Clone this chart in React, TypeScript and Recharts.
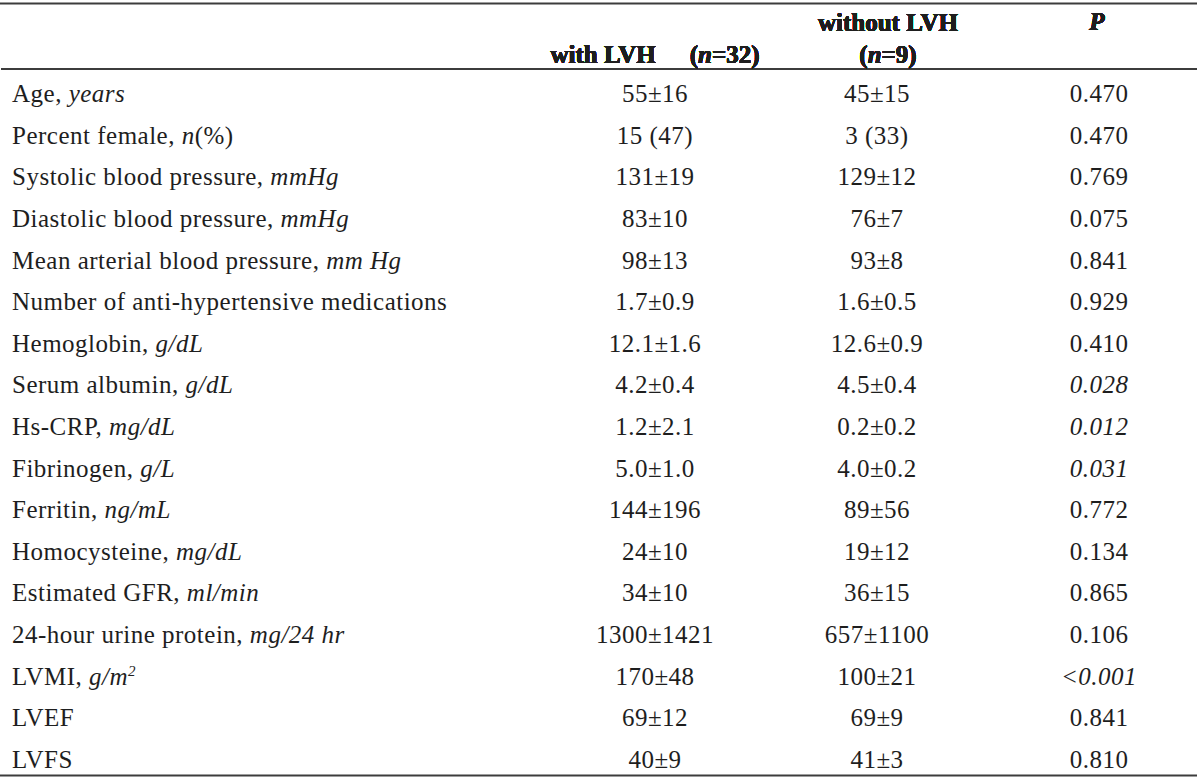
import React from "react";
import { ScatterChart, Scatter, XAxis, YAxis } from "recharts";

const rowNames = [
  "Age",
  "Percent female",
  "Systolic blood pressure",
  "Diastolic blood pressure",
  "Mean arterial blood pressure",
  "Number of anti-hypertensive medications",
  "Hemoglobin",
  "Serum albumin",
  "Hs-CRP",
  "Fibrinogen",
  "Ferritin",
  "Homocysteine",
  "Estimated GFR",
  "24-hour urine protein",
  "LVMI",
  "LVEF",
  "LVFS",
];

// "^" marks a superscript, "(" starts a roman tail
const rowUnits = [
  "years", "n(%)", "mmHg", "mmHg", "mm Hg", "", "g/dL", "g/dL", "mg/dL",
  "g/L", "ng/mL", "mg/dL", "ml/min", "mg/24 hr", "g/m^2", "", "",
];

const withLVH = [
  "55±16", "15 (47)", "131±19", "83±10", "98±13", "1.7±0.9", "12.1±1.6",
  "4.2±0.4", "1.2±2.1", "5.0±1.0", "144±196", "24±10", "34±10",
  "1300±1421", "170±48", "69±12", "40±9",
];

const withoutLVH = [
  "45±15", "3 (33)", "129±12", "76±7", "93±8", "1.6±0.5", "12.6±0.9",
  "4.5±0.4", "0.2±0.2", "4.0±0.2", "89±56", "19±12", "36±15",
  "657±1100", "100±21", "69±9", "41±3",
];

const pValues = [
  "0.470", "0.470", "0.769", "0.075", "0.841", "0.929", "0.410", "0.028",
  "0.012", "0.031", "0.772", "0.134", "0.865", "0.106", "<0.001", "0.841",
  "0.810",
];

const FONT = "'Liberation Serif', 'Times New Roman', serif";
const INK = "#1e1e1e";
const RULE = "#3c3c3c";
const SIZE = 25;
const SPACING = 0.5;

const toPoints = (col: string, values: string[]) =>
  rowNames.map((row, i) => ({ row, col, text: values[i] }));

const isSignificant = (p: string) => p.startsWith("<") || parseFloat(p) < 0.05;

const CellText = (props: any) => {
  const { cx, cy, payload } = props;
  const italic = payload.col === "p" && isSignificant(payload.text);
  return (
    <text
      x={cx}
      y={cy}
      dy="0.33em"
      textAnchor="middle"
      fontFamily={FONT}
      fontSize={SIZE}
      letterSpacing={SPACING}
      fontStyle={italic ? "italic" : "normal"}
      fill={INK}
    >
      {payload.text}
    </text>
  );
};

const RowLabel = (props: any) => {
  const { y, payload } = props;
  const i = rowNames.indexOf(payload.value);
  const unit = rowUnits[i] || "";
  let main = unit;
  let tail = "";
  let sup = "";
  if (unit.includes("(")) {
    main = unit.slice(0, unit.indexOf("("));
    tail = unit.slice(unit.indexOf("("));
  }
  if (main.includes("^")) {
    [main, sup] = main.split("^");
  }
  return (
    <text
      x={12}
      y={y}
      dy="0.33em"
      fontFamily={FONT}
      fontSize={SIZE}
      letterSpacing={SPACING}
      fill={INK}
      textAnchor="start"
    >
      {payload.value}
      {unit ? ", " : ""}
      {main && <tspan fontStyle="italic">{main}</tspan>}
      {sup && (
        <tspan fontStyle="italic" fontSize={15} dy={-9}>
          {sup}
        </tspan>
      )}
      {tail && <tspan>{tail}</tspan>}
    </text>
  );
};

const Header = (props: any) => {
  const { x, payload } = props;
  const base = { fontFamily: FONT, fontSize: SIZE, fontWeight: "bold", fill: INK } as const;
  if (payload.value === "with") {
    return (
      <text x={x} y={62.5} textAnchor="middle" {...base}>
        with LVH
        <tspan dx={34}>(</tspan>
        <tspan fontStyle="italic">n</tspan>=32)
      </text>
    );
  }
  if (payload.value === "without") {
    return (
      <g>
        <text x={x + 11} y={30.5} textAnchor="middle" {...base}>
          without LVH
        </text>
        <text x={x + 11} y={62.5} textAnchor="middle" {...base}>
          (<tspan fontStyle="italic">n</tspan>=9)
        </text>
      </g>
    );
  }
  return (
    <text x={x - 2} y={30} textAnchor="middle" {...base} fontStyle="italic">
      P
    </text>
  );
};

// top and bottom rules of the table
const Rules = (props: any) => {
  const vb = props.viewBox || {};
  const right = (vb.x || 0) + (vb.width || 1197);
  return (
    <g>
      <line x1={0} x2={right} y1={3.5} y2={3.5} stroke={RULE} strokeWidth={1.8} />
      <line x1={0} x2={right} y1={775.5} y2={775.5} stroke={RULE} strokeWidth={1.8} />
    </g>
  );
};

export default function App() {
  return (
    <div style={{ position: "absolute", left: 0, top: 0, background: "#fff" }}>
      <ScatterChart width={1200} height={778} margin={{ top: 0, right: 3, bottom: 2.5, left: 0 }}>
        <XAxis
          dataKey="col"
          type="category"
          scale="point"
          orientation="top"
          height={69}
          allowDuplicatedCategory={false}
          padding={{ left: 654, right: 98 }}
          axisLine={{ stroke: RULE, strokeWidth: 1.8 }}
          tickLine={false}
          tick={<Header />}
          interval={0}
          label={{ content: <Rules /> }}
        />
        <YAxis
          dataKey="row"
          type="category"
          scale="point"
          reversed
          width={1}
          allowDuplicatedCategory={false}
          padding={{ top: 25, bottom: 16 }}
          axisLine={false}
          tickLine={false}
          tick={<RowLabel />}
          interval={0}
        />
        <Scatter data={toPoints("with", withLVH)} shape={<CellText />} isAnimationActive={false} />
        <Scatter data={toPoints("without", withoutLVH)} shape={<CellText />} isAnimationActive={false} />
        <Scatter data={toPoints("p", pValues)} shape={<CellText />} isAnimationActive={false} />
      </ScatterChart>
    </div>
  );
}
